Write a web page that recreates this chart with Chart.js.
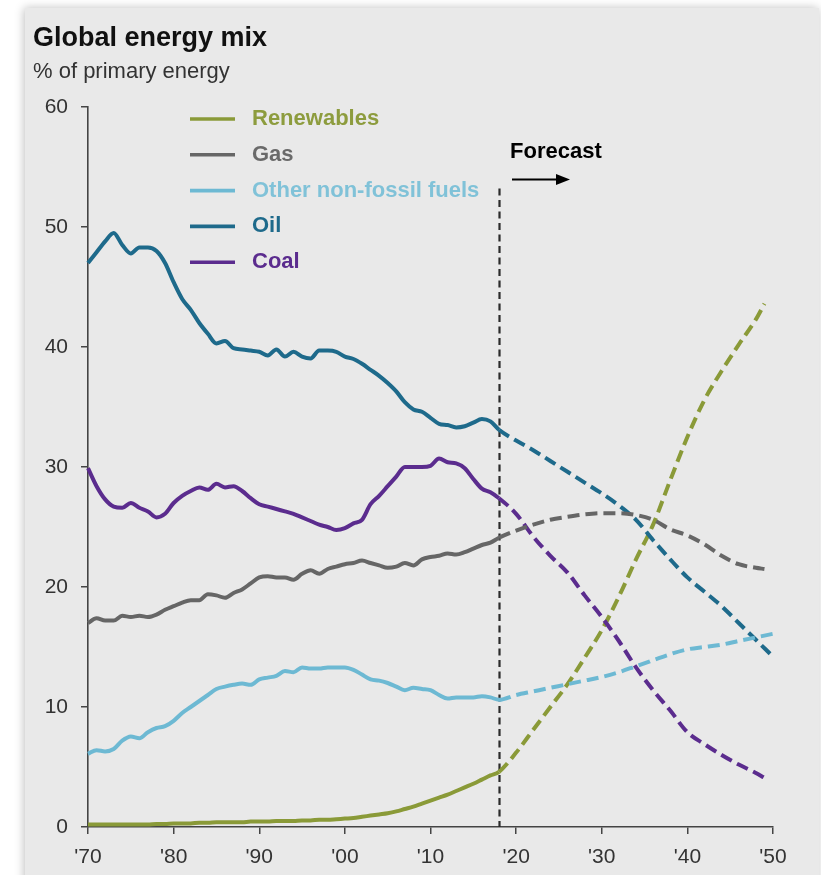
<!DOCTYPE html>
<html>
<head>
<meta charset="utf-8">
<script src="https://cdn.jsdelivr.net/npm/chart.js@4/dist/chart.umd.min.js"></script>
<style>
  html, body { margin: 0; padding: 0; background: #fff; }
  #wrap { width: 821px; height: 875px; position: relative; }
  canvas { display: block; }
</style>
</head>
<body>
<div id="wrap"><canvas id="c" width="821" height="875"></canvas></div>
<script>
// ---- Data: share of primary energy (%) ----
const histYears = [1970,1971,1972,1973,1974,1975,1976,1977,1978,1979,
  1980,1981,1982,1983,1984,1985,1986,1987,1988,1989,
  1990,1991,1992,1993,1994,1995,1996,1997,1998,1999,
  2000,2001,2002,2003,2004,2005,2006,2007,2008,2009,
  2010,2011,2012,2013,2014,2015,2016,2017,2018];

const renewablesHist = [0.2,0.2,0.2,0.2,0.2,0.2,0.2,0.2,0.25,0.25,
  0.3,0.3,0.3,0.35,0.35,0.4,0.4,0.4,0.4,0.45,
  0.45,0.45,0.5,0.5,0.5,0.55,0.55,0.6,0.6,0.65,
  0.7,0.75,0.85,0.95,1.05,1.15,1.3,1.5,1.7,1.95,
  2.2,2.45,2.7,3.0,3.3,3.6,3.95,4.3,4.6];

const gasHist = [17.0,17.4,17.2,17.2,17.6,17.5,17.6,17.5,17.7,18.1,
  18.4,18.7,18.9,18.9,19.4,19.3,19.1,19.5,19.8,20.3,
  20.8,20.9,20.8,20.8,20.6,21.1,21.4,21.1,21.5,21.7,
  21.9,22.0,22.2,22.0,21.8,21.6,21.7,22.0,21.8,22.3,
  22.5,22.6,22.8,22.7,22.9,23.2,23.5,23.7,24.1];

const otherHist = [6.1,6.4,6.3,6.5,7.2,7.55,7.4,7.9,8.25,8.4,
  8.85,9.5,10.0,10.5,11.0,11.5,11.7,11.85,11.95,11.85,
  12.3,12.45,12.6,13.0,12.9,13.3,13.2,13.2,13.3,13.3,
  13.3,13.1,12.7,12.3,12.2,12.0,11.7,11.4,11.6,11.5,
  11.4,11.0,10.7,10.8,10.8,10.8,10.9,10.8,10.6];

const oilHist = [47.0,47.9,48.8,49.5,48.5,47.8,48.3,48.3,48.0,47.0,
  45.4,44.0,43.1,42.0,41.1,40.3,40.5,39.9,39.8,39.7,
  39.6,39.3,39.8,39.2,39.6,39.2,39.05,39.7,39.7,39.6,
  39.2,39.0,38.6,38.1,37.6,37.0,36.3,35.4,34.8,34.6,
  34.1,33.6,33.5,33.3,33.4,33.7,34.0,33.8,33.1];

const coalHist = [29.9,28.4,27.3,26.7,26.6,27.0,26.6,26.3,25.8,26.1,
  27.0,27.6,28.0,28.3,28.1,28.6,28.3,28.4,28.0,27.4,
  26.9,26.7,26.5,26.3,26.1,25.8,25.5,25.2,25.0,24.75,
  24.9,25.3,25.6,26.9,27.6,28.4,29.2,30.0,30.0,30.0,
  30.1,30.7,30.4,30.3,29.9,29.0,28.2,27.9,27.4];

// Projection years (first entry repeats the last historical year)
const forecastYears      = [2018,2020,2022,2024,2026,2028,2030,2032,2034,2036,2038,2040,2042,2044,2046,2048,2050];
const forecastYearsShort = [2018,2020,2022,2024,2026,2028,2030,2032,2034,2036,2038,2040,2042,2044,2046,2048,2049];

const renewablesForecast = [4.6,6.2,8.1,10.0,11.9,14.1,16.4,19.2,22.3,25.2,28.9,32.5,35.6,38.0,40.2,42.3,43.6];
const gasForecast        = [24.1,24.7,25.2,25.6,25.85,26.05,26.15,26.15,26.0,25.6,24.8,24.3,23.55,22.6,21.9,21.6,21.5];
const otherForecast      = [10.6,11.0,11.3,11.6,11.9,12.2,12.5,12.9,13.4,13.9,14.4,14.8,15.0,15.2,15.5,15.8,16.1];
const oilForecast        = [33.1,32.2,31.4,30.5,29.6,28.7,27.8,26.8,25.6,23.9,22.3,20.8,19.6,18.4,17.0,15.6,14.2];
const coalForecast       = [27.4,26.1,24.2,22.6,21.2,19.3,17.5,15.5,13.3,11.4,9.7,7.9,6.9,6.0,5.2,4.5,4.1];

const forecastStart = 2018;
const xTickYears  = [1970,1980,1990,2000,2010,2020,2030,2040,2050];
const xTickLabels = ["'70","'80","'90","'00","'10","'20","'30","'40","'50"];
const yTicks = [0,10,20,30,40,50,60];

const seriesNames  = ['Renewables','Gas','Other non-fossil fuels','Oil','Coal'];
const seriesColors = ['#8a9a38','#666666','#6db9d3','#1e6a8b','#5b2c8e'];
const legendText   = ['#8d9c3e','#6a6a6a','#80c2d8','#1e6a8b','#5b2c8e'];

const FONT = '"Liberation Sans", Arial, Helvetica, sans-serif';

function joinSeries(hist, fYears, fVals) {
  const pts = histYears.map((x, i) => ({ x, y: hist[i] }));
  for (let i = 1; i < fYears.length; i++) pts.push({ x: fYears[i], y: fVals[i] });
  return pts;
}

const seriesData = [
  joinSeries(renewablesHist, forecastYearsShort, renewablesForecast),
  joinSeries(gasHist, forecastYearsShort, gasForecast),
  joinSeries(otherHist, forecastYears, otherForecast),
  joinSeries(oilHist, forecastYears, oilForecast),
  joinSeries(coalHist, forecastYearsShort, coalForecast)
];

// Drawing order: lower layers first
const drawOrder = [2, 1, 4, 3, 0];
const datasets = drawOrder.map(i => ({
  label: seriesNames[i],
  data: seriesData[i],
  borderColor: seriesColors[i],
  backgroundColor: seriesColors[i],
  borderWidth: 4,
  pointRadius: 0,
  pointHoverRadius: 0,
  cubicInterpolationMode: 'monotone',
  borderCapStyle: 'butt',
  borderJoinStyle: 'round',
  clip: 6,
  segment: {
    borderDash: ctx => ctx.p0.parsed.x >= forecastStart ? [12, 6] : undefined
  }
}));

// Background panel, forecast marker, title and legend
const decor = {
  id: 'decor',
  beforeDraw(chart) {
    const c = chart.ctx;
    c.save();
    c.fillStyle = '#ffffff';
    c.fillRect(0, 0, chart.width, chart.height);
    c.shadowColor = 'rgba(0,0,0,0.25)';
    c.shadowBlur = 9;
    c.shadowOffsetX = -1;
    c.fillStyle = '#e9e9e9';
    c.fillRect(25, 8, 794, 900);
    c.restore();
  },
  beforeDatasetsDraw(chart) {
    const c = chart.ctx;
    const xs = chart.scales.x, ys = chart.scales.y;
    const mx = Math.round(xs.getPixelForValue(forecastStart)) + 0.5;
    c.save();
    c.strokeStyle = '#2b2b2b';
    c.lineWidth = 2.2;
    c.setLineDash([7, 4.5]);
    c.beginPath();
    c.moveTo(mx, ys.getPixelForValue(53.2));
    c.lineTo(mx, ys.bottom);
    c.stroke();
    c.restore();
  },
  afterDraw(chart) {
    const c = chart.ctx;
    const xs = chart.scales.x;
    c.save();
    // Title and subtitle
    c.textAlign = 'left';
    c.textBaseline = 'alphabetic';
    c.fillStyle = '#111111';
    c.font = 'bold 27px ' + FONT;
    c.fillText('Global energy mix', 33, 46);
    c.fillStyle = '#333333';
    c.font = '22px ' + FONT;
    c.fillText('% of primary energy', 33, 78);

    // Legend
    c.textBaseline = 'middle';
    c.font = 'bold 22px ' + FONT;
    seriesNames.forEach((name, i) => {
      const y = 119 + i * 35.8;
      c.strokeStyle = seriesColors[i];
      c.lineWidth = 3.6;
      c.beginPath();
      c.moveTo(190, y);
      c.lineTo(235, y);
      c.stroke();
      c.fillStyle = legendText[i];
      c.fillText(name, 252, y);
    });

    // Forecast label and arrow
    const mx = xs.getPixelForValue(forecastStart);
    c.fillStyle = '#000000';
    c.font = 'bold 22px ' + FONT;
    c.fillText('Forecast', mx + 11, 152);
    c.strokeStyle = '#000000';
    c.lineWidth = 2;
    c.beginPath();
    c.moveTo(mx + 13, 179.5);
    c.lineTo(mx + 60, 179.5);
    c.stroke();
    c.beginPath();
    c.moveTo(mx + 71, 179.5);
    c.lineTo(mx + 57, 174);
    c.lineTo(mx + 57, 185);
    c.closePath();
    c.fill();
    c.restore();
  }
};

new Chart(document.getElementById('c'), {
  type: 'line',
  data: { datasets },
  plugins: [decor],
  options: {
    responsive: false,
    animation: false,
    devicePixelRatio: 1,
    layout: { padding: { left: 0, right: 48, top: 107, bottom: 0 } },
    plugins: { legend: { display: false }, tooltip: { enabled: false }, title: { display: false } },
    scales: {
      x: {
        type: 'linear',
        min: 1970,
        max: 2050,
        afterBuildTicks: s => { s.ticks = xTickYears.map(v => ({ value: v })); },
        afterFit: s => { s.height = 48; },
        ticks: {
          autoSkip: false,
          maxRotation: 0,
          padding: 11,
          color: '#333333',
          font: { family: FONT, size: 21 },
          callback: (v, i) => xTickLabels[i]
        },
        grid: { drawOnChartArea: false, drawTicks: true, tickLength: 7, tickColor: '#444444', lineWidth: 1.5 },
        border: { display: true, color: '#444444', width: 1.6 }
      },
      y: {
        min: 0,
        max: 60,
        afterBuildTicks: s => { s.ticks = yTicks.map(v => ({ value: v })); },
        afterFit: s => { s.width = 88; },
        ticks: {
          padding: 13,
          color: '#333333',
          font: { family: FONT, size: 21 }
        },
        grid: { drawOnChartArea: false, drawTicks: true, tickLength: 7, tickColor: '#444444', lineWidth: 1.5 },
        border: { display: true, color: '#444444', width: 1.6 }
      }
    }
  }
});
</script>
</body>
</html>
